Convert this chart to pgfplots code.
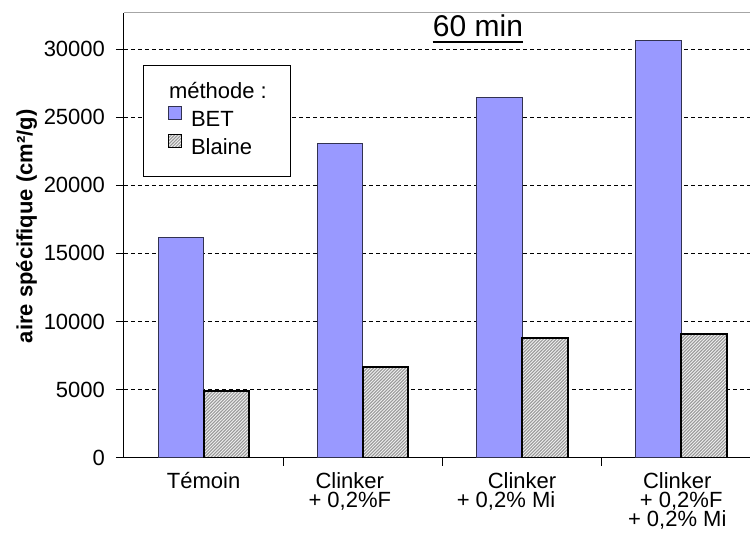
\documentclass[border=0pt]{standalone}
\usepackage{fontspec}
\setmainfont{Liberation Sans}
\usepackage{pgfplots}
\pgfplotsset{compat=1.18}
\usetikzlibrary{patterns,calc}
\definecolor{bet}{RGB}{153,153,255}
\definecolor{betdraw}{RGB}{50,50,80}
\pgfdeclarepatternformonly{finelines}{\pgfqpoint{-1pt}{-1pt}}{\pgfqpoint{2.6pt}{2.6pt}}{\pgfqpoint{1.6pt}{1.6pt}}{%
  \pgfsetlinewidth{0.5pt}%
  \pgfpathmoveto{\pgfqpoint{0pt}{0pt}}%
  \pgfpathlineto{\pgfqpoint{1.7pt}{1.7pt}}%
  \pgfusepath{stroke}}
\begin{document}
\begin{tikzpicture}
\begin{axis}[
  scale only axis, width=313pt, height=222.5pt,
  xmin=-0.5, xmax=3.432, ymin=0, ymax=32670,
  axis x line*=bottom, axis y line*=left,
  axis line style={black, line width=0.5pt},
  /pgf/number format/assume math mode=true,
  ytick={0,5000,10000,15000,20000,25000,30000},
  scaled y ticks=false,
  ymajorgrids, grid style={black, line width=0.5pt, dash pattern=on 2pt off 1.5pt},
  y tick label style={font=\fontsize{11}{12}\selectfont, /pgf/number format/1000 sep={}, xshift=-2pt},
  tick align=outside, major tick length=4pt,
  tick style={black, line width=0.5pt},
  xtick={0.5,1.5,2.5}, xticklabels={},
  extra x ticks={0,1,2,3},
  extra x tick style={major tick length=0pt, grid=none},
  extra x tick labels={{Témoin},{Clinker\hspace*{13pt}\\+ 0,2\%F\hspace*{13pt}},{Clinker\\+ 0,2\% Mi\hspace*{16pt}},{Clinker\hspace*{4pt}\\+ 0,2\%F\hspace*{4pt}\\+ 0,2\% Mi\hspace*{4pt}}},
  x tick label style={font=\fontsize{11}{9.6}\selectfont, align=center, anchor=north, inner sep=0pt, yshift=-7.1pt},
  every axis y label/.style={at={(rel axis cs:0,0.52)}, xshift=-48.65pt, rotate=90, anchor=center, font=\bfseries\fontsize{11}{13}\selectfont},
  ylabel={aire spécifique (cm²/g)},
  legend style={at={(rel axis cs:0.0304,0.8825)}, anchor=north west, draw=black, line width=0.5pt,
    font=\fontsize{11}{13}\selectfont, inner xsep=12pt, inner ysep=7pt, row sep=0pt,
    nodes={inner sep=0pt, text height=9.5pt, text depth=3.9pt}},
  legend cell align=left,
  legend image code/.code={\draw[#1, line width=0.5pt] (0pt,0.5pt) rectangle (6.5pt,7pt); \path (11pt,3pt);},
]
\addlegendimage{empty legend}
\addlegendentry{\hspace*{-11pt}méthode :}
\addplot[ybar, bar width=0.286, bar shift=-0.143, fill=bet, draw=betdraw, line width=0.5pt]
  coordinates {(0,16180) (1,23080) (2,26450) (3,30650)};
\addlegendentry{BET}
\addplot[ybar, bar width=0.286, bar shift=0.143, draw=black, line width=1pt, fill=gray!12,
  postaction={pattern=finelines, pattern color=gray!80}]
  coordinates {(0,4920) (1,6680) (2,8770) (3,9070)};
\addlegendentry{Blaine}
\draw[gray!70, line width=0.5pt] (rel axis cs:0,1) -- (rel axis cs:1,1);
\node[font=\fontsize{15}{18}\selectfont, anchor=base, inner sep=0pt] (ttl) at (rel axis cs:0.5655,0.946) {60 min};
\end{axis}
\draw[line width=1pt] ([yshift=-2.5pt]ttl.base west) -- ([yshift=-2.5pt]ttl.base east);
\pgfresetboundingbox
\path ($(current axis.south west)+(-62pt,-38pt)$) rectangle ($(current axis.north east)+(0pt,6.35pt)$);
\end{tikzpicture}
\end{document}
